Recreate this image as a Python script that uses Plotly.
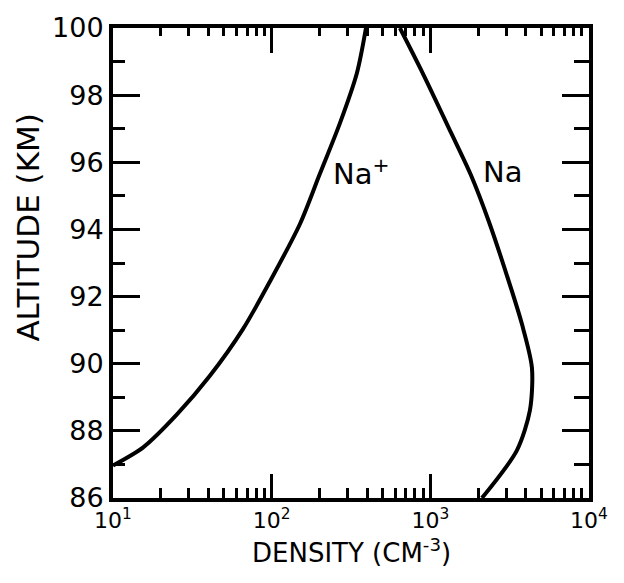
import numpy as np
import plotly.graph_objects as go

# Sodium ion profile (density in cm^-3 vs altitude in km)
na_ion_alt = [86.97, 87.51, 88.49, 89.64, 91.03, 92.45, 94.17, 95.65, 97.16, 98.67, 100.0]
na_ion_density = [10, 15.5, 25.3, 40.8, 65.9, 97.5, 151, 201, 269, 345, 393]

# Neutral sodium profile
na_alt = [100.0, 98.76, 96.89, 95.62, 94.23, 92.81, 91.18, 89.88, 88.61, 87.42, 86.0]
na_density = [643, 873, 1348, 1802, 2340, 2952, 3778, 4368, 4242, 3513, 2114]

x_tick_vals = [10, 100, 1000, 10000]
x_tick_text = ["10<sup>1</sup>", "10<sup>2</sup>", "10<sup>3</sup>", "10<sup>4</sup>"]
y_tick_vals = [86, 88, 90, 92, 94, 96, 98, 100]

FONT = "DejaVu Sans"
INK = "black"

fig = go.Figure()
for xs, ys in ((na_ion_density, na_ion_alt), (na_density, na_alt)):
    fig.add_trace(go.Scatter(x=xs, y=ys, mode="lines",
                             line=dict(color=INK, width=4, shape="spline", smoothing=0.8),
                             showlegend=False, hoverinfo="skip"))

# Transparent copy on the top/right axes so those axes carry their own tick marks
fig.add_trace(go.Scatter(x=na_density, y=na_alt, xaxis="x2", yaxis="y2", mode="lines",
                         line=dict(color="rgba(0,0,0,0)", width=0),
                         showlegend=False, hoverinfo="skip"))

curve_font = dict(family=FONT, size=29, color=INK)
fig.add_annotation(x=np.log10(235), y=95.7, xref="x", yref="y",
                   text="Na<sup>+</sup>", showarrow=False, xanchor="left", yanchor="middle",
                   font=curve_font)
fig.add_annotation(x=np.log10(2075), y=95.7, xref="x", yref="y",
                   text="Na", showarrow=False, xanchor="left", yanchor="middle",
                   font=curve_font)

# Axis titles
fig.add_annotation(x=0.5, y=-0.112, xref="paper", yref="paper",
                   text="DENSITY (CM<sup>-3</sup>)", showarrow=False,
                   xanchor="center", yanchor="middle",
                   font=dict(family=FONT, size=26, color=INK))
fig.add_annotation(x=-0.179, y=0.577, xref="paper", yref="paper",
                   text="ALTITUDE (KM)", showarrow=False, textangle=-90,
                   xanchor="center", yanchor="middle",
                   font=dict(family=FONT, size=31, color=INK))

common = dict(showline=True, linewidth=4, linecolor=INK, showgrid=False, zeroline=False)

fig.update_layout(
    width=624, height=583,
    margin=dict(l=113, r=35, t=25, b=85),
    paper_bgcolor="white", plot_bgcolor="white",
    xaxis=dict(
        type="log", range=[1, 4],
        tickmode="array", tickvals=x_tick_vals, ticktext=x_tick_text,
        ticks="inside", ticklen=24, tickwidth=3, tickcolor=INK,
        minor=dict(ticks="inside", ticklen=10, tickwidth=3, tickcolor=INK, dtick="D1"),
        mirror=True,
        tickfont=dict(family=FONT, size=22, color=INK),
        **common,
    ),
    yaxis=dict(
        range=[86, 100],
        tickmode="array", tickvals=y_tick_vals,
        ticks="inside", ticklen=27, tickwidth=3, tickcolor=INK,
        minor=dict(ticks="inside", ticklen=12, tickwidth=3, tickcolor=INK, dtick=1, tick0=86),
        mirror=True,
        tickfont=dict(family=FONT, size=27, color=INK),
        **common,
    ),
    xaxis2=dict(
        type="log", range=[1, 4], overlaying="x", side="top", anchor="y2",
        tickmode="array", tickvals=x_tick_vals, showticklabels=False,
        ticks="inside", ticklen=25, tickwidth=3, tickcolor=INK,
        minor=dict(ticks="inside", ticklen=8, tickwidth=3, tickcolor=INK, dtick="D1"),
        **common,
    ),
    yaxis2=dict(
        range=[86, 100], overlaying="y", side="right", anchor="x2",
        tickmode="array", tickvals=y_tick_vals, showticklabels=False,
        ticks="inside", ticklen=27, tickwidth=3, tickcolor=INK,
        minor=dict(ticks="inside", ticklen=15, tickwidth=3, tickcolor=INK, dtick=1, tick0=86),
        **common,
    ),
)

fig.write_html("out.html")
